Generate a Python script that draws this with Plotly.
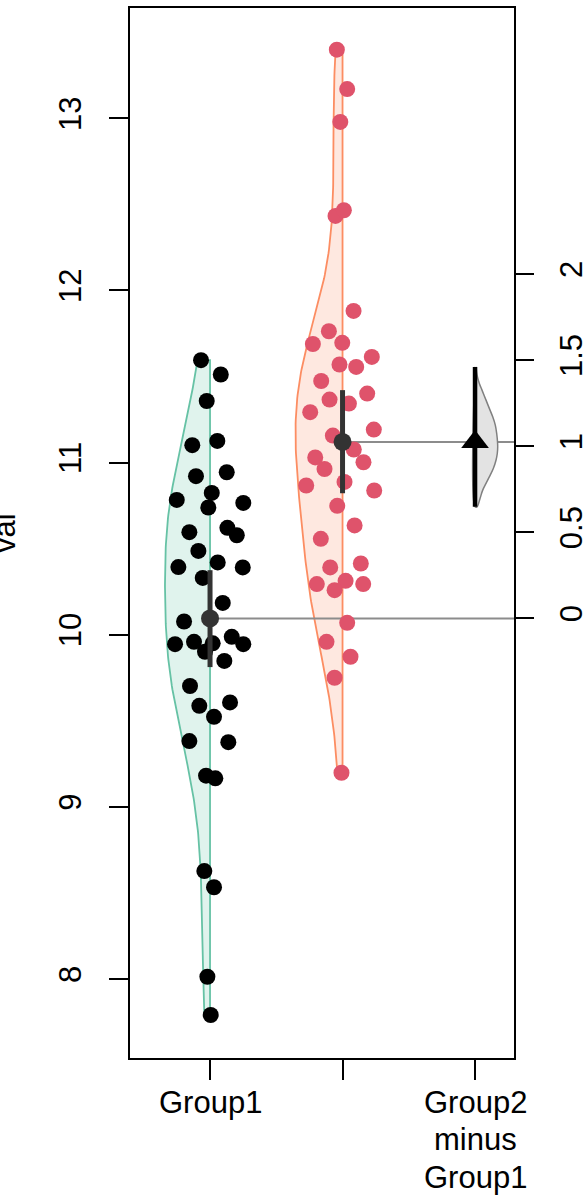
import numpy as np
import plotly.graph_objects as go

# ---------------- data ----------------
categories = ["Group1", "Group2"]
x_tick_positions = [1, 2, 3]
x_tick_labels = [["Group1"], [], ["Group2", "minus", "Group1"]]
y_label = "val"

group1_val = [11.595, 11.512, 11.358, 11.101, 11.126, 10.921, 10.944, 10.783, 10.824, 10.739,
              10.766, 10.596, 10.621, 10.578, 10.487, 10.393, 10.420, 10.391, 10.330, 10.185,
              10.077, 9.945, 9.959, 9.950, 9.901, 9.988, 9.945, 9.848, 9.702, 9.587,
              9.607, 9.523, 9.382, 9.376, 9.181, 9.166, 8.627, 8.533, 8.013, 7.791]
group1_x = [0.932, 1.081, 0.975, 0.866, 1.055, 0.894, 1.126, 0.749, 1.013, 0.987,
            1.251, 0.844, 1.131, 1.202, 0.912, 0.761, 1.058, 1.247, 0.945, 1.096,
            0.804, 0.736, 0.879, 1.020, 0.962, 1.164, 1.251, 1.108, 0.849, 0.919,
            1.151, 1.030, 0.844, 1.138, 0.970, 1.040, 0.957, 1.030, 0.980, 1.005]

group2_val = [13.399, 13.170, 12.979, 12.433, 12.466, 11.881, 11.763, 11.689, 11.696, 11.614,
              11.570, 11.556, 11.474, 11.401, 11.366, 11.343, 11.293, 11.192, 11.157, 11.076,
              11.030, 11.002, 10.963, 10.888, 10.867, 10.838, 10.749, 10.635, 10.557, 10.414,
              10.391, 10.294, 10.313, 10.259, 10.294, 10.069, 9.959, 9.872, 9.750, 9.198]
group2_x = [1.957, 2.035, 1.983, 1.947, 2.010, 2.083, 1.897, 1.776, 1.998, 2.221,
            1.977, 2.103, 1.839, 2.186, 1.902, 2.048, 1.756, 2.236, 1.927, 2.085,
            1.794, 2.158, 1.864, 2.015, 1.726, 2.239, 1.960, 2.091, 1.836, 2.138,
            1.907, 1.806, 2.023, 1.940, 2.156, 2.035, 1.879, 2.060, 1.940, 1.992]

group_means = [10.095, 11.120]
group_ci_low = [9.812, 10.822]
group_ci_high = [10.375, 11.421]

diff_mean = 1.025
diff_ci = [0.648, 1.461]
diff_dist_val = [1.461, 1.413, 1.365, 1.326, 1.268, 1.220, 1.171, 1.123, 1.074, 1.026,
                 0.997, 0.958, 0.919, 0.871, 0.822, 0.784, 0.745, 0.697, 0.648]
diff_dist_density = [0.044, 0.088, 0.189, 0.308, 0.485, 0.630, 0.780, 0.894, 0.956, 0.991,
                     1.000, 0.982, 0.925, 0.806, 0.630, 0.485, 0.339, 0.220, 0.088]

left_ticks = [8, 9, 10, 11, 12, 13]
right_ticks = [0, 0.5, 1, 1.5, 2]
right_tick_labels = ["0", "0.5", "1", "1.5", "2"]

# ---------------- styling ----------------
FONT = "Liberation Sans, Arial, sans-serif"
FS = 31
violin_line = ["#66C2A5", "#FC8D62"]
violin_fill = ["rgba(102,194,165,0.2)", "rgba(252,141,98,0.2)"]
point_color = ["#000000", "#DF536B"]
violin_halfwidth = [0.34, 0.355]
diff_halfwidth = 0.171
XR = [0.396, 3.294]
YR = [7.541, 13.641]
LABEL_LINE_SHIFTS = [-44, -81, -119]


def kde(vals, grid):
    v = np.asarray(vals)
    n = len(v)
    sd = v.std(ddof=1)
    iqr = np.subtract(*np.percentile(v, [75, 25]))
    bw = 0.9 * min(sd, iqr / 1.34) * n ** (-0.2)
    d = np.exp(-0.5 * ((grid[:, None] - v[None, :]) / bw) ** 2).sum(axis=1)
    return d / d.max()


fig = go.Figure()

# half violins
for i, vals in enumerate([group1_val, group2_val]):
    c = i + 1
    grid = np.linspace(min(vals), max(vals), 200)
    dens = kde(vals, grid)
    xs = np.concatenate([c - violin_halfwidth[i] * dens, [c, c]])
    ys = np.concatenate([grid, [grid[-1], grid[0]]])
    fig.add_trace(go.Scatter(x=xs, y=ys, mode="lines", fill="toself",
                             fillcolor=violin_fill[i],
                             line=dict(color=violin_line[i], width=1.8),
                             hoverinfo="skip", showlegend=False))

# horizontal reference lines from the group means to the right axis
for i, m in enumerate(group_means):
    fig.add_trace(go.Scatter(x=[i + 1, XR[1]], y=[m, m], mode="lines",
                             line=dict(color="#8C8C8C", width=2),
                             hoverinfo="skip", showlegend=False))

# points
for i, (xv, yv) in enumerate([(group1_x, group1_val), (group2_x, group2_val)]):
    fig.add_trace(go.Scatter(x=xv, y=yv, mode="markers",
                             marker=dict(color=point_color[i], size=16, line=dict(width=0)),
                             name=categories[i], showlegend=False))

# group means with CI
for i, m in enumerate(group_means):
    fig.add_trace(go.Scatter(x=[i + 1, i + 1], y=[group_ci_low[i], group_ci_high[i]],
                             mode="lines", line=dict(color="#333333", width=5),
                             hoverinfo="skip", showlegend=False))
    fig.add_trace(go.Scatter(x=[i + 1], y=[m], mode="markers",
                             marker=dict(color="#333333", size=18),
                             showlegend=False))

# difference distribution (right axis)
dd = np.array(diff_dist_density)
dv = np.array(diff_dist_val)
fig.add_trace(go.Scatter(x=np.concatenate([3 + diff_halfwidth * dd, [3, 3]]),
                         y=np.concatenate([dv, [dv[-1], dv[0]]]),
                         yaxis="y2", mode="lines", fill="toself",
                         fillcolor="#E3E3E3", line=dict(color="#808080", width=1.5, shape="spline"),
                         hoverinfo="skip", showlegend=False))
fig.add_trace(go.Scatter(x=[3, 3], y=diff_ci, yaxis="y2", mode="lines",
                         line=dict(color="black", width=4.5),
                         hoverinfo="skip", showlegend=False))
fig.add_trace(go.Scatter(x=[3], y=[diff_mean], yaxis="y2", mode="markers",
                         marker=dict(symbol="triangle-up", color="black", size=24),
                         showlegend=False))

m1 = group_means[0]
axis_common = dict(showgrid=False, zeroline=False, ticks="outside", tickcolor="black",
                   tickwidth=1.8, linecolor="black", linewidth=1.8, automargin=False,
                   tickfont=dict(family=FONT, size=FS, color="black"))

annotations = [dict(text=y_label, textangle=-90, xref="paper", yref="paper",
                    x=0, y=0.5, xanchor="center", yanchor="middle", xshift=-126,
                    showarrow=False, font=dict(family=FONT, size=FS, color="black"))]
for pos, lines in zip(x_tick_positions, x_tick_labels):
    for k, line in enumerate(lines):
        annotations.append(dict(text=line, xref="x", yref="paper", x=pos, y=0,
                                xanchor="center", yanchor="middle",
                                yshift=LABEL_LINE_SHIFTS[k], showarrow=False,
                                font=dict(family=FONT, size=FS, color="black")))

fig.update_layout(
    width=588, height=1196,
    margin=dict(l=130, r=74, t=8, b=138),
    paper_bgcolor="white", plot_bgcolor="white",
    font=dict(family=FONT, size=FS, color="black"),
    xaxis=dict(range=XR, tickvals=x_tick_positions, showticklabels=False, ticklen=20,
               showline=True, mirror=True, **axis_common),
    yaxis=dict(range=YR, tickvals=left_ticks, tickangle=-90, ticklen=19,
               ticklabelstandoff=16, showline=True, mirror=True, **axis_common),
    yaxis2=dict(range=[YR[0] - m1, YR[1] - m1], overlaying="y", side="right",
                tickvals=right_ticks, ticktext=right_tick_labels,
                tickangle=-90, ticklen=19, ticklabelstandoff=11, showline=False, **axis_common),
    annotations=annotations,
)

fig.write_html("out.html", config={"displayModeBar": False},
               post_script="document.body.style.margin='0px';")
